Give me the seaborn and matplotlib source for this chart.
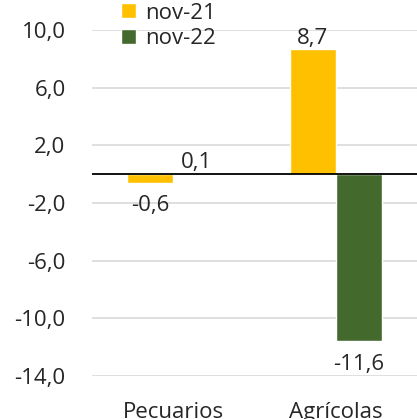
import numpy as np
import pandas as pd
import matplotlib
matplotlib.use("Agg")
import matplotlib.pyplot as plt
import seaborn as sns

categories = ["Pecuarios", "Agrícolas"]
series = ["nov-21", "nov-22"]
nov21 = [-0.6, 8.7]
nov22 = [0.1, -11.6]
colors = ["#FFC000", "#44692D"]
yticks = [-14, -10, -6, -2, 2, 6, 10]

df = pd.DataFrame({
    "categoria": categories * 2,
    "serie": [series[0]] * 2 + [series[1]] * 2,
    "valor": nov21 + nov22,
})

sns.set_style("white")
plt.rcParams["font.family"] = ["Open Sans", "DejaVu Sans"]
fs = 16

fig = plt.figure(figsize=(4.17, 4.19), dpi=100)
ax = fig.add_axes([0.2206, 0.1026, 0.7794, 0.8258])

sns.barplot(data=df, x="categoria", y="valor", hue="serie", order=categories,
            hue_order=series, palette=colors, width=0.567, saturation=1,
            legend=True, ax=ax)

ax.set_ylim(-14, 10)
ax.set_yticks(yticks)
ax.set_yticklabels([f"{v:.1f}".replace(".", ",") for v in yticks], fontsize=fs)
ax.tick_params(axis="x", labelsize=fs, pad=19, length=0)
ax.tick_params(axis="y", length=0, pad=19)
ax.set_xlabel("")
ax.set_ylabel("")
ax.grid(axis="y", color="#D9D9D9", lw=1.2)
ax.set_axisbelow(True)
for s in ax.spines.values():
    s.set_visible(False)
ax.axhline(0, color="black", lw=1.3, zorder=3)

# etiquetas de datos: arriba si es positivo, abajo si es negativo
for cont in ax.containers:
    for bar, v in zip(cont, cont.datavalues):
        x = bar.get_x() + bar.get_width() / 2
        off = 0 if v > 0 else -9
        ax.annotate(f"{v:.1f}".replace(".", ","), (x, v), xytext=(0, off),
                    textcoords="offset points", ha="center",
                    va="bottom" if v > 0 else "top", fontsize=fs)

h, l = ax.get_legend_handles_labels()
ax.get_legend().remove()
fig.legend(h, l, loc="upper left", bbox_to_anchor=(0.27, 1.015), frameon=False,
           fontsize=fs, handlelength=0.65, handleheight=0.65, handletextpad=0.4,
           labelspacing=0.2, borderaxespad=0)

fig.savefig("out.png", dpi=100)
